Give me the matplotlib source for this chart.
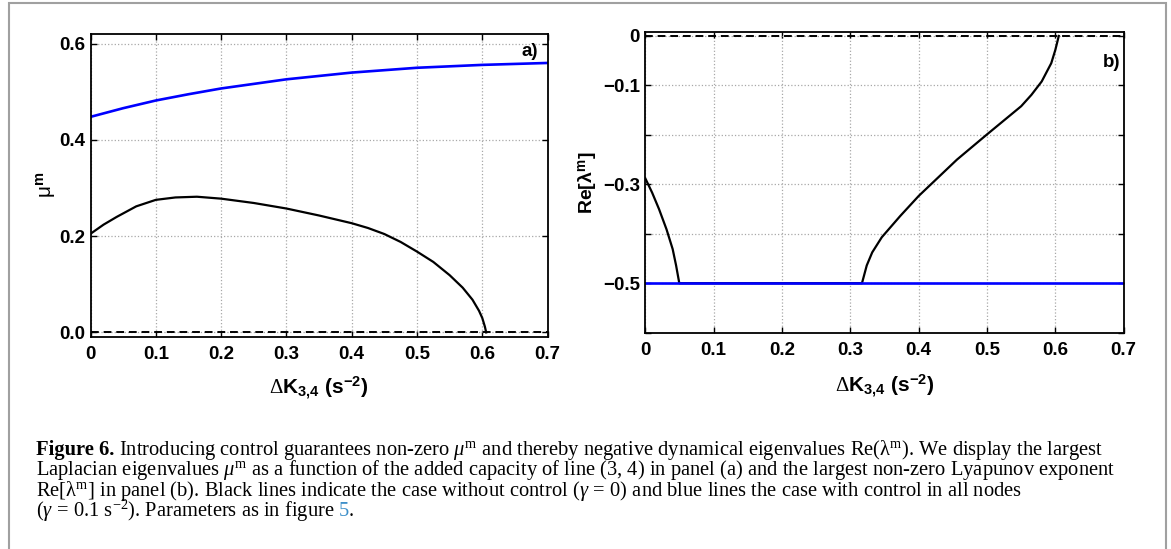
import matplotlib
matplotlib.use('Agg')
import matplotlib.pyplot as plt
from matplotlib.patches import Rectangle

plt.rcParams['font.family'] = 'Liberation Sans'
plt.rcParams['mathtext.fontset'] = 'custom'
plt.rcParams['mathtext.rm'] = 'Liberation Serif'
plt.rcParams['mathtext.it'] = 'Liberation Serif:italic'
plt.rcParams['mathtext.bf'] = 'Liberation Serif:bold'
plt.rcParams['mathtext.sf'] = 'Liberation Sans:bold'

# panel a) largest laplacian eigenvalue mu^m vs added capacity
dK_a_nocontrol = [0, 0.02, 0.04, 0.07, 0.1, 0.13, 0.163, 0.2, 0.25, 0.3, 0.35, 0.4, 0.425,
                  0.45, 0.475, 0.5, 0.525, 0.55, 0.57, 0.585, 0.595, 0.6, 0.604, 0.606]
mu_nocontrol = [0.205, 0.224, 0.240, 0.262, 0.2755, 0.2805, 0.282, 0.278, 0.269, 0.2575,
                0.243, 0.227, 0.217, 0.2045, 0.188, 0.168, 0.1465, 0.119, 0.093, 0.068,
                0.045, 0.03, 0.012, 0.0]
dK_a_control = [0, 0.05, 0.1, 0.15, 0.2, 0.3, 0.4, 0.5, 0.6, 0.7]
mu_control = [0.448, 0.466, 0.482, 0.495, 0.507, 0.526, 0.540, 0.550, 0.556, 0.560]

# panel b) largest non-zero lyapunov exponent
dK_b_nocontrol = [0, 0.01, 0.02, 0.031, 0.04, 0.045, 0.0497, 0.317, 0.324, 0.332, 0.346,
                  0.373, 0.40, 0.456, 0.50, 0.55, 0.565, 0.58, 0.594, 0.60, 0.605]
re_nocontrol = [-0.288, -0.317, -0.350, -0.391, -0.431, -0.464, -0.5, -0.5, -0.464, -0.4376,
                -0.407, -0.364, -0.3235, -0.25, -0.199, -0.142, -0.119, -0.092, -0.055,
                -0.028, 0.0]
dK_b_control = [0, 0.7]
re_control = [-0.5, -0.5]

zero_level = 0.0

xticks = [0, 0.1, 0.2, 0.3, 0.4, 0.5, 0.6, 0.7]
xtick_labels = ['0', '0.1', '0.2', '0.3', '0.4', '0.5', '0.6', '0.7']
yticks_a = [0.0, 0.2, 0.4, 0.6]
ytick_labels_a = ['0.0', '0.2', '0.4', '0.6']
yticks_b = [-0.6, -0.5, -0.4, -0.3, -0.2, -0.1, 0.0]
ytick_labels_b = ['', '\u22120.5', '', '\u22120.3', '', '\u22120.1', '0']

fig = plt.figure(figsize=(11.71, 5.49), dpi=100)
axa = fig.add_axes([0.0773, 0.3867, 0.3903, 0.5519])
axb = fig.add_axes([0.5511, 0.3940, 0.4085, 0.5472])

xlab = r'$\Delta$K$_{\mathsf{3{,}4}}$ (s$^{\mathsf{-2}}$)'
for ax in (axa, axb):
    ax.grid(True, linestyle=':', color='#a8a8a8', linewidth=0.9)
    ax.tick_params(direction='in', top=True, right=True, length=4, width=1, labelsize=13.5)
    ax.tick_params(axis='x', pad=7)
    ax.tick_params(axis='y', pad=4)
    for s in ax.spines.values():
        s.set_linewidth(1.3)
    ax.set_xlim(0, 0.7)
    ax.set_xticks(xticks)
    ax.set_xticklabels(xtick_labels, fontweight='bold')
    ax.set_xlabel(xlab, fontsize=15, fontweight='bold')

# panel a
axa.plot(dK_a_nocontrol, mu_nocontrol, color='black', lw=1.6)
axa.plot(dK_a_control, mu_control, color='#0000ff', lw=1.9)
axa.axhline(zero_level, color='black', ls='--', lw=1.4, dashes=(4, 2.5))
axa.set_ylim(-0.0089, 0.6208)
axa.set_yticks(yticks_a)
axa.set_yticklabels(ytick_labels_a, fontweight='bold')
axa.set_ylabel(r'μ$^{\mathsf{m}}$', fontsize=15)
axa.yaxis.set_label_coords(-0.071, 0.5)
axa.xaxis.set_label_coords(0.5, -0.125)
axa.text(0.9786, 0.9406, 'a)', transform=axa.transAxes, ha='right', va='center',
         fontsize=13.5, fontweight='bold')

# panel b
axb.plot(dK_b_nocontrol, re_nocontrol, color='black', lw=1.6)
axb.plot(dK_b_control, re_control, color='#0000ff', lw=1.9)
axb.axhline(zero_level, color='black', ls='--', lw=1.4, dashes=(4, 2.5))
axb.set_ylim(-0.6, 0.0075)
axb.set_yticks(yticks_b)
axb.set_yticklabels(ytick_labels_b, fontweight='bold')
axb.set_ylabel(r'Re[λ$^{\mathsf{m}}$]', fontsize=14, fontweight='bold')
axb.yaxis.set_label_coords(-0.097, 0.5)
axb.xaxis.set_label_coords(0.5, -0.135)
axb.text(0.992, 0.901, 'b)', transform=axb.transAxes, ha='right', va='center',
         fontsize=13.5, fontweight='bold')

# caption
cap_head = 'Figure 6.'
cap = [
    r' Introducing control guarantees non-zero $\mu^{\rm m}$ and thereby negative dynamical eigenvalues $\rm Re(\lambda^{m})$. We display the largest',
    r'Laplacian eigenvalues $\mu^{\rm m}$ as a function of the added capacity of line (3, 4) in panel (a) and the largest non-zero Lyapunov exponent',
    r'Re[$\rm\lambda^{m}$] in panel (b). Black lines indicate the case without control ($\gamma\,=\,0$) and blue lines the case with control in all nodes',
    r'($\gamma\,=\,0.1\ {\rm s}^{-2}$). Parameters as in figure',
]
cap_fs = 14.75
cap_x = 36 / 1171
cap_y = [1 - 455 / 549, 1 - 475.5 / 549, 1 - 496 / 549, 1 - 516.3 / 549]

fig.canvas.draw()
r = fig.canvas.get_renderer()
W = fig.bbox.width

head = fig.text(cap_x, cap_y[0], cap_head, family='Liberation Serif', fontsize=cap_fs,
                fontweight='bold', va='baseline', ha='left')
x_after_head = head.get_window_extent(r).x1 / W
texts = []
for i, (line, y) in enumerate(zip(cap, cap_y)):
    x0 = x_after_head if i == 0 else cap_x
    texts.append(fig.text(x0, y, line, family='Liberation Serif', fontsize=cap_fs,
                          va='baseline', ha='left'))

bb = texts[-1].get_window_extent(r)
t5 = fig.text(bb.x1 / W + 4 / W, cap_y[-1], '5', family='Liberation Serif', fontsize=cap_fs,
              va='baseline', ha='left', color='#3d8fc9')
bb5 = t5.get_window_extent(r)
fig.text(bb5.x1 / W, cap_y[-1], '.', family='Liberation Serif', fontsize=cap_fs,
         va='baseline', ha='left')

# gray frame around the figure
fig.patches.append(Rectangle((9 / 1171, -0.05), (1166 - 9) / 1171, 1.05 - 3.3 / 549,
                             transform=fig.transFigure, fill=False, edgecolor='#a0a0a0',
                             linewidth=1.5))

fig.savefig('out.png', dpi=100)
